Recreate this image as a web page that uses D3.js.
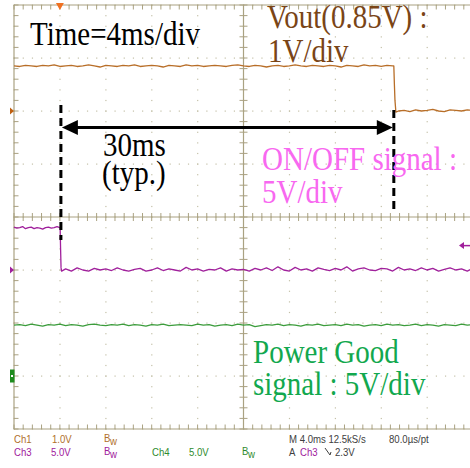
<!DOCTYPE html>
<html><head><meta charset="utf-8">
<script src="https://cdn.jsdelivr.net/npm/d3@7"></script>
<style>body{margin:0;background:#fff}svg{display:block}</style>
</head><body><svg id="c" width="470" height="468"></svg>
<script>
// ---- data (time in ms, trigger at t=0; volts) ----
const timeStep = 0.5;
const ch1Start = -4, ch1High = [0.85,0.84,0.86,0.85,0.84,0.86,0.85,0.87,0.84,0.85,
 0.86,0.84,0.85,0.87,0.85,0.83,0.86,0.85,0.84,0.86,
 0.85,0.87,0.84,0.85,0.86,0.85,0.83,0.86,0.85,0.84,
 0.87,0.85,0.86,0.84,0.85,0.86,0.85,0.84,0.86,0.87,
 0.85,0.84,0.86,0.85,0.83,0.85,0.86,0.84,0.85,0.87,
 0.85,0.84,0.86,0.85,0.84,0.86,0.85,0.83,0.86,0.85,
 0.84,0.87,0.85,0.86,0.84,0.86,0.85];
const ch1Edge = [[29.1,0.85],[29.15,0.5],[29.2,0.2],[29.28,-0.02]];
const ch1LowStart = 29.5, ch1Low = [0.0,0.01,-0.01,0.02,0.0,0.01,0.03,0.0,-0.01,0.02,0.01,0.0,0.02,0.01];

const ch3Start = -4, ch3HighStep = 0.25, ch3High = [4.05,3.95,4.0,4.1,3.9,4.0,4.05,3.9,4.0,3.95,3.85,4.0,4.05,3.95,4.0,4.1,4.0];
const ch3Edge = [[0.02,4.0],[0.06,2.0],[0.1,0.2],[0.15,-0.1]];
const ch3LowStart = 0.5, ch3Low = [0.1,-0.1,0.2,0.0,-0.1,0.15,0.0,0.1,-0.05,0.2,
 0.0,-0.1,0.05,0.15,-0.1,0.0,0.2,-0.05,0.1,0.0,
 -0.1,0.25,0.0,0.1,-0.1,0.05,0.0,0.2,-0.1,0.1,
 0.0,0.05,-0.1,0.15,0.0,0.2,-0.05,0.3,0.0,-0.1,
 0.25,0.0,0.1,-0.1,0.2,0.05,-0.05,0.15,0.0,0.3,
 -0.1,0.1,0.2,0.0,-0.05,0.15,0.1,-0.1,0.25,0.0,
 0.1,-0.05,0.2,0.0,0.15,-0.1,0.05,0.2,0.0,0.1,
 -0.1,0.15];

const ch4Start = -4, ch4 = [4.8,4.85,4.75,4.9,4.8,4.7,4.85,4.8,4.9,4.75,
 4.85,4.8,4.7,4.85,4.9,4.8,4.75,4.85,4.8,4.9,
 4.75,4.85,4.8,4.7,4.85,4.8,4.9,4.75,4.8,4.85,
 4.8,4.75,4.9,4.8,4.85,4.7,4.8,4.85,4.75,4.9,
 4.8,4.85,4.65,4.75,4.85,4.8,4.9,4.75,4.85,4.8,
 4.7,4.85,4.8,4.9,4.75,4.8,4.85,4.75,4.9,4.8,
 4.85,4.7,4.8,4.85,4.75,4.9,4.8,4.85,4.75,4.8,
 4.9,4.75,4.85,4.8,4.7,4.85,4.8,4.75,4.9,4.8,
 4.85];

const channels = [
  {name:"Ch1", offsetDiv:2, voltsPerDiv:1, color:"#b86e28"},
  {name:"Ch3", offsetDiv:-1, voltsPerDiv:5, color:"#a0209c"},
  {name:"Ch4", offsetDiv:-3, voltsPerDiv:5, color:"#3c9c3c"}
];
const delayMs = 29.1;
const triggerLevel = 2.3;
const timeDomain = [-4, 36];
const divDomain = [-4, 4];

// ---- build series ----
const seq = (start, step, vals) => vals.map((v,i)=>[start+i*step, v]);
const ch1Series = seq(ch1Start, timeStep, ch1High).concat(ch1Edge, seq(ch1LowStart, timeStep, ch1Low));
const ch3Series = seq(ch3Start, ch3HighStep, ch3High).concat(ch3Edge, seq(ch3LowStart, timeStep, ch3Low));
const ch4Series = seq(ch4Start, timeStep, ch4);

const svg = d3.select("#c");
const x = d3.scaleLinear().domain(timeDomain).range([14, 473]);
const y = d3.scaleLinear().domain(divDomain).range([429, 5]);
const divW = x(0) - x(-4), divH = y(0) - y(1);

const axisCol = "#aaa282", dotCol = "#c4c0a8";
const g = svg.append("g");
// dotted grid
const hDivs = d3.range(timeDomain[0], timeDomain[1]+0.01, 4);
const vDivs = d3.range(-4, 4.01, 1);
const minorT = d3.range(timeDomain[0], timeDomain[1]+0.01, 0.8);
const minorV = d3.range(-4, 4.01, 0.2);
hDivs.forEach(t => minorV.forEach(v => g.append("rect").attr("x", x(t)-0.5).attr("y", y(v)-0.5).attr("width",1.2).attr("height",1.2).attr("fill", dotCol)));
vDivs.forEach(v => minorT.forEach(t => g.append("rect").attr("x", x(t)-0.5).attr("y", y(v)-0.5).attr("width",1.2).attr("height",1.2).attr("fill", dotCol)));

// borders & center cross
const line = (x1,y1,x2,y2,w) => g.append("line").attr("x1",x1).attr("y1",y1).attr("x2",x2).attr("y2",y2).attr("stroke",axisCol).attr("stroke-width",w||1.2);
line(x(-4), y(4), x(-4), y(-4));
line(x(-4), y(4), x(36), y(4));
line(x(-4), y(-4), x(36), y(-4));
line(x(16), y(4), x(16), y(-4));
line(x(-4), y(0), x(36), y(0));
minorT.forEach(t => { line(x(t), y(4), x(t), y(4)+4.5, 1); line(x(t), y(-4), x(t), y(-4)-4.5, 1); line(x(t), y(0)-4, x(t), y(0)+4, 1); });
minorV.forEach(v => { line(x(-4), y(v), x(-4)+4.5, y(v), 1); line(x(16)-4, y(v), x(16)+4, y(v), 1); });

// traces
const toXY = ch => d => [x(d[0]), y(ch.offsetDiv + d[1]/ch.voltsPerDiv)];
const lg = d3.line();
[[ch1Series, channels[0]], [ch3Series, channels[1]], [ch4Series, channels[2]]].forEach(([s, ch]) => {
  svg.append("path").attr("d", lg(s.map(toXY(ch)))).attr("fill","none").attr("stroke", ch.color).attr("stroke-width",1.3).attr("stroke-linejoin","round");
});

// channel ground markers
svg.append("path").attr("d", `M10,${y(2)-3.5}L14,${y(2)}L10,${y(2)+3.5}Z`).attr("fill","#c06010");
svg.append("path").attr("d", `M10,${y(-1)-3.5}L14,${y(-1)}L10,${y(-1)+3.5}Z`).attr("fill","#a0209c");
svg.append("rect").attr("x",10).attr("y",y(-3)-6.5).attr("width",4.5).attr("height",13).attr("fill","#1e8c1e");
svg.append("rect").attr("x",11).attr("y",y(-3)-1).attr("width",2).attr("height",2).attr("fill","#fff");
// trigger position marker
svg.append("path").attr("d", `M${x(0)-4},3L${x(0)+4},3L${x(0)},10Z`).attr("fill","#f07020");
// trigger level arrow
const ty = y(-1 + triggerLevel/5);
svg.append("path").attr("d", `M459,${ty}L464,${ty-3.5}L464,${ty+3.5}Z`).attr("fill","#a0209c");
svg.append("line").attr("x1",463).attr("x2",470).attr("y1",ty).attr("y2",ty).attr("stroke","#a0209c").attr("stroke-width",1.5);

// annotation dashed lines & arrow
const a = svg.append("g");
a.append("line").attr("x1",x(0)+1).attr("x2",x(0)+1).attr("y1",105).attr("y2",240).attr("stroke","#000").attr("stroke-width",3).attr("stroke-dasharray","8,5");
a.append("line").attr("x1",x(delayMs)).attr("x2",x(delayMs)).attr("y1",110).attr("y2",214).attr("stroke","#000").attr("stroke-width",3).attr("stroke-dasharray","8,5");
const ay = 127.5, x0 = x(0)+2, x1 = x(delayMs)-1;
a.append("line").attr("x1",x0+12).attr("x2",x1-12).attr("y1",ay).attr("y2",ay).attr("stroke","#000").attr("stroke-width",3);
a.append("path").attr("d",`M${x0},${ay}L${x0+16},${ay-7.5}L${x0+16},${ay+7.5}Z`).attr("fill","#000");
a.append("path").attr("d",`M${x1},${ay}L${x1-16},${ay-7.5}L${x1-16},${ay+7.5}Z`).attr("fill","#000");

// big labels
const big = (tx, bx, by, col) => svg.append("text").attr("transform",`translate(${bx},${by}) scale(1,1.15)`)
  .attr("font-family","'Liberation Serif','Times New Roman',serif").attr("font-size",29).attr("fill",col).text(tx);
big("Time=4ms/div", 30, 45, "#000");
big("Vout(0.85V) :", 267, 28, "#7a4516");
big("1V/div", 268, 62, "#7a4516");
big("30ms", 103, 156, "#000");
big("(typ.)", 102, 184, "#000");
big("ON/OFF signal :", 262, 170, "#f868f0");
big("5V/div", 262, 203, "#f868f0");
big("Power Good", 253, 363, "#12a84e");
big("signal : 5V/div", 253, 395, "#12a84e");

// readout
const small = (tx, bx, by, col) => svg.append("text").attr("transform",`translate(${bx},${by}) scale(1,1.15)`)
  .attr("font-family","'Liberation Sans',Arial,sans-serif").attr("font-size",9.6).attr("fill",col).text(tx);
const bw = (bx, by, col) => { small("B", bx, by-1, col); small("w", bx+6, by+2, col); };
small("Ch1", 14, 443, "#b0702c"); small("1.0V", 52, 443, "#b0702c"); bw(104, 443, "#b0702c");
small("Ch3", 14, 456, "#a0209c"); small("5.0V", 51, 456, "#a0209c"); bw(104, 456, "#a0209c");
small("Ch4", 152, 456, "#2e8b2e"); small("5.0V", 189, 456, "#2e8b2e"); bw(242, 456, "#2e8b2e");
small("M 4.0ms 12.5kS/s", 289, 443, "#404040"); small("80.0µs/pt", 389, 443, "#404040");
small("A", 289, 456, "#404040"); small("Ch3", 300, 456, "#a0209c");
svg.append("path").attr("d","M325,448L330,455M330,455L331,452").attr("stroke","#404040").attr("fill","none").attr("stroke-width",1);
small("2.3V", 335, 456, "#404040");
</script></body></html>
